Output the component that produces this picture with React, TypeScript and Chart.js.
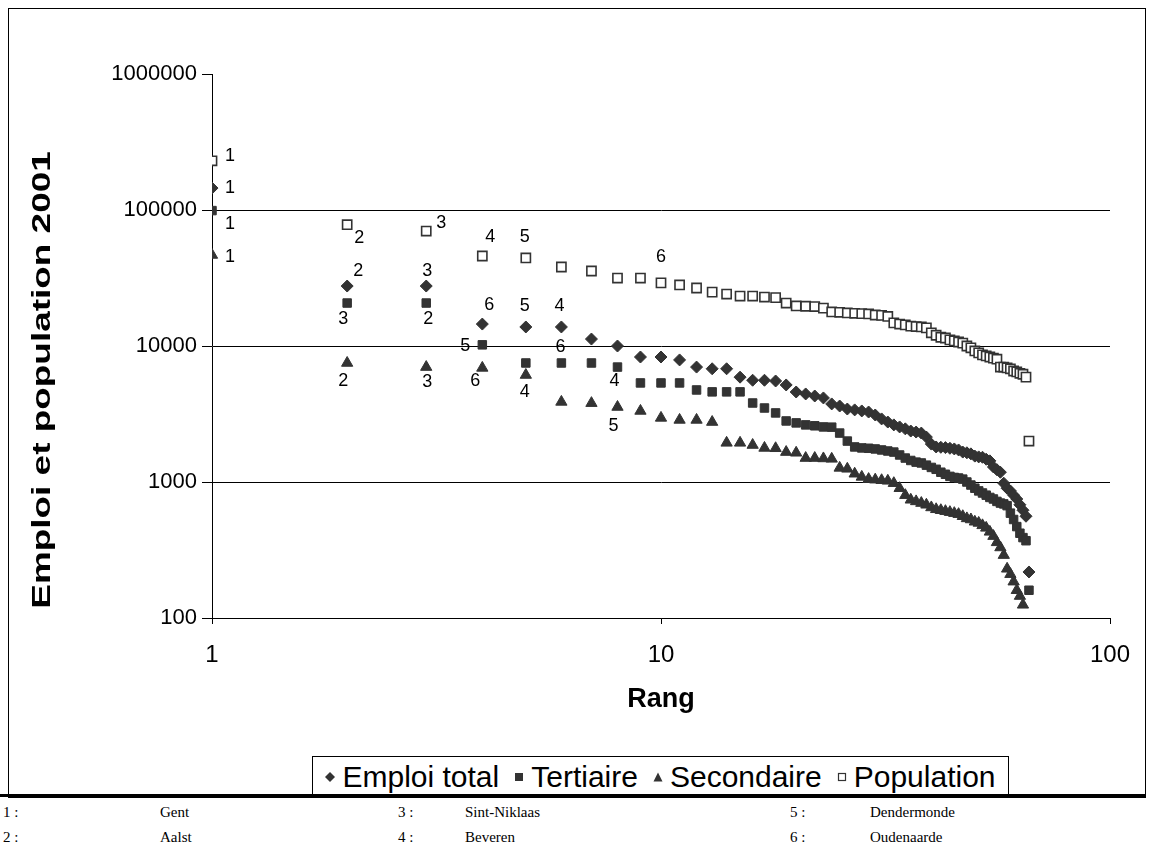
import React, { useEffect, useRef } from 'react';
import { Chart, registerables } from 'chart.js';

Chart.register(...registerables);

// ---------- DATA ----------
const SERIES_NAMES = ['Emploi total', 'Tertiaire', 'Secondaire', 'Population'];

const emploiTotal = [
  145000, 27600, 27600, 14500, 13800, 13800, 11250, 10000, 8300, 8300, 7900, 7000, 6800, 6800, 5900, 5600, 5600,
  5530, 5170, 4590, 4440, 4290, 4150, 3750, 3620, 3440, 3390, 3330, 3270, 3110, 2910, 2760, 2630, 2540, 2460,
  2370, 2330, 2290, 2140, 1900, 1810, 1800, 1790, 1770, 1750, 1720, 1660, 1640, 1610, 1550, 1530, 1520, 1470,
  1430, 1290, 1230, 1180, 980, 900, 860, 800, 750, 680, 620, 560, 218,
];

const tertiaire = [
  99000, 20700, 20700, 10200, 7500, 7500, 7500, 7000, 5350, 5350, 5350, 4750, 4600, 4600, 4600, 3810, 3500,
  3220, 2810, 2720, 2630, 2590, 2540, 2530, 2290, 2000, 1810, 1780, 1770, 1750, 1720, 1690, 1660, 1580, 1500,
  1440, 1400, 1380, 1330, 1280, 1240, 1180, 1140, 1100, 1080, 1070, 1050, 1000, 950, 900, 860, 830, 800, 770,
  750, 720, 700, 690, 670, 590, 530, 470, 420, 390, 370, 160,
];

const secondaire = [
  46700, 7500, 7000, 6900, 6120, 3880, 3800, 3560, 3330, 2960, 2860, 2860, 2760, 1940, 1940, 1870, 1780, 1770,
  1660, 1640, 1500, 1500, 1490, 1480, 1270, 1250, 1150, 1090, 1050, 1040, 1030, 1020, 980, 900, 800, 740, 720,
  700, 680, 650, 630, 620, 610, 600, 590, 580, 560, 540, 530, 510, 500, 480, 460, 430, 400, 360, 330, 290, 230,
  210, 185, 160, 145, 125,
];

const population = [
  230000, 78000, 70000, 45900, 44400, 38100, 35600, 31600, 31600, 29100, 28100, 26700, 24900, 24100, 23300, 23300,
  22900, 22700, 20700, 19700, 19600, 19500, 19000, 17800, 17700, 17500, 17400, 17300, 17200, 16900, 16800, 16500,
  14800, 14500, 14300, 14000, 13900, 13800, 13600, 12500, 12000, 11600, 11450, 11100, 10900, 10700, 10500, 10000,
  9700, 9200, 8900, 8600, 8450, 8300, 8150, 8000, 7000, 7000, 6900, 6800, 6550, 6450, 6300, 6200, 5900, 2000,
];

const X_TICKS = [1, 10, 100];
const Y_TICKS = [100, 1000, 10000, 100000, 1000000];
const X_TITLE = 'Rang';
const Y_TITLE = 'Emploi et population 2001';

// city number labels: [rank, text] per series
const labelsEmploi = [[1, '1'], [2, '2'], [3, '3'], [4, '6'], [5, '5'], [6, '4']];
const labelsTertiaire = [[1, '1'], [2, '3'], [3, '2'], [4, '5'], [6, '6'], [8, '4']];
const labelsSecondaire = [[1, '1'], [2, '2'], [3, '3'], [4, '6'], [5, '4'], [8, '5']];
const labelsPopulation = [[1, '1'], [2, '2'], [3, '3'], [4, '4'], [5, '5'], [10, '6']];

const CITY_NUMS = ['1 :', '2 :', '3 :', '4 :', '5 :', '6 :'];
const CITY_NAMES = ['Gent', 'Aalst', 'Sint-Niklaas', 'Beveren', 'Dendermonde', 'Oudenaarde'];

// ---------- STYLE ----------
const FONT = '"Liberation Sans", Arial, sans-serif';
const SERIF = '"Liberation Serif", "Times New Roman", serif';
const MARK = '#333333';

// label offsets (px) per series, parallel to label arrays
const OFFSETS_EMPLOI = [[18, 0], [11, -15], [1, -15], [7, -19], [-1, -21], [-2, -21]];
const OFFSETS_TERT = [[18, 13], [-4, 16], [2, 16], [-17, 1], [-1, -16], [-3, 14]];
const OFFSETS_SEC = [[18, 2], [-4, 18], [1, 15], [-7, 13], [-1, 17], [-4, 19]];
const OFFSETS_POP = [[18, -5], [12, 13], [15, -8], [8, -19], [-1, -21], [0, -26]];

const LABEL_SETS = [
  { data: labelsEmploi, off: OFFSETS_EMPLOI },
  { data: labelsTertiaire, off: OFFSETS_TERT },
  { data: labelsSecondaire, off: OFFSETS_SEC },
  { data: labelsPopulation, off: OFFSETS_POP },
];

const toPoints = (arr: number[]) => arr.map((v, i) => ({ x: i + 1, y: v }));

const labelPlugin = {
  id: 'cityLabels',
  afterDatasetsDraw(chart: any) {
    const ctx = chart.ctx;
    ctx.save();
    ctx.font = `18px ${FONT}`;
    ctx.fillStyle = '#000';
    ctx.textAlign = 'center';
    ctx.textBaseline = 'middle';
    LABEL_SETS.forEach((set, di) => {
      const meta = chart.getDatasetMeta(di);
      set.data.forEach((lb: any, k: number) => {
        const el = meta.data[lb[0] - 1];
        if (!el) return;
        const [dx, dy] = set.off[k];
        ctx.fillText(lb[1], el.x + dx, el.y + dy);
      });
    });
    ctx.restore();
  },
};

// vertical axis title, drawn stretched along its reading direction as in the original
const yTitlePlugin = {
  id: 'yTitle',
  afterDraw(chart: any) {
    const { ctx, chartArea } = chart;
    ctx.save();
    ctx.translate(35, (chartArea.top + chartArea.bottom) / 2 + 34);
    ctx.rotate(-Math.PI / 2);
    ctx.scale(1.42, 1);
    ctx.font = `bold 26px ${FONT}`;
    ctx.fillStyle = '#000';
    ctx.textAlign = 'center';
    ctx.textBaseline = 'middle';
    ctx.fillText(Y_TITLE, 0, 0);
    ctx.restore();
  },
};

function LegendIcon({ kind }: { kind: number }) {
  const s = 10;
  if (kind === 0)
    return (
      <svg width={s} height={s} viewBox="0 0 10 10">
        <polygon points="5,0 10,5 5,10 0,5" fill={MARK} />
      </svg>
    );
  if (kind === 1)
    return (
      <svg width={s} height={s} viewBox="0 0 10 10">
        <rect x="1" y="1" width="8" height="8" fill={MARK} />
      </svg>
    );
  if (kind === 2)
    return (
      <svg width={s} height={s} viewBox="0 0 10 10">
        <polygon points="5,0.5 9.5,9.5 0.5,9.5" fill={MARK} />
      </svg>
    );
  return (
    <svg width={s} height={s} viewBox="0 0 10 10">
      <rect x="1.5" y="1.5" width="7" height="7" fill="#fff" stroke={MARK} strokeWidth="1.2" />
    </svg>
  );
}

export default function App() {
  const ref = useRef<HTMLCanvasElement>(null);

  useEffect(() => {
    if (!ref.current) return;
    const chart = new Chart(ref.current, {
      type: 'scatter',
      data: {
        datasets: [
          {
            label: SERIES_NAMES[0],
            data: toPoints(emploiTotal),
            pointStyle: 'rectRot',
            pointRadius: 6,
            backgroundColor: MARK,
            borderColor: MARK,
            borderWidth: 1,
            order: 4,
          },
          {
            label: SERIES_NAMES[1],
            data: toPoints(tertiaire),
            pointStyle: 'rect',
            pointRadius: 6,
            backgroundColor: MARK,
            borderColor: MARK,
            borderWidth: 1,
            order: 3,
          },
          {
            label: SERIES_NAMES[2],
            data: toPoints(secondaire),
            pointStyle: 'triangle',
            pointRadius: 6.5,
            backgroundColor: MARK,
            borderColor: MARK,
            borderWidth: 1,
            order: 2,
          },
          {
            label: SERIES_NAMES[3],
            data: toPoints(population),
            pointStyle: 'rect',
            pointRadius: 6.5,
            backgroundColor: '#ffffff',
            borderColor: MARK,
            borderWidth: 1.6,
            order: 1,
          },
        ],
      },
      options: {
        responsive: false,
        animation: false,
        layout: { padding: { top: 66, right: 35, bottom: 40, left: 0 } },
        plugins: {
          legend: { display: false },
          tooltip: { enabled: false },
        },
        scales: {
          x: {
            type: 'logarithmic',
            position: 'bottom',
            min: 1,
            max: 100,
            afterBuildTicks: (s: any) => {
              s.ticks = X_TICKS.map((v) => ({ value: v }));
            },
            afterFit: (s: any) => {
              s.height = 138;
              s.paddingLeft = 0;
              s.paddingRight = 0;
            },
            ticks: {
              color: '#000',
              font: { family: FONT, size: 24 },
              padding: 17,
              autoSkip: false,
              maxRotation: 0,
              callback: (v: any) => String(v),
            },
            grid: { drawOnChartArea: false, drawTicks: true, tickLength: 6, tickColor: '#000' },
            border: { color: '#000', width: 1 },
            title: {
              display: true,
              text: X_TITLE,
              color: '#000',
              font: { family: FONT, size: 27, weight: 'bold' },
              padding: { top: 0, bottom: 40 },
            },
          },
          y: {
            type: 'logarithmic',
            min: 100,
            max: 1000000,
            afterBuildTicks: (s: any) => {
              s.ticks = Y_TICKS.map((v) => ({ value: v }));
            },
            afterFit: (s: any) => {
              s.width = 204;
            },
            ticks: {
              color: '#000',
              font: { family: FONT, size: 22 },
              padding: 5,
              callback: (v: any) => String(v),
            },
            grid: {
              color: (c: any) => (c.tick && c.tick.value === 1000000 ? 'rgba(0,0,0,0)' : '#000'),
              tickColor: '#000',
              tickLength: 10,
              lineWidth: 1,
            },
            border: { color: '#000', width: 1 },
            title: { display: false },
          },
        },
      },
      plugins: [labelPlugin, yTitlePlugin],
    } as any);
    return () => chart.destroy();
  }, []);

  const rowTop = [804, 829];
  const colNum = [3, 398, 790];
  const colName = [160, 465, 870];

  return (
    <div
      style={{
        position: 'absolute',
        left: 0,
        top: 0,
        width: 1153,
        height: 859,
        background: '#fff',
        overflow: 'hidden',
      }}
    >
      <div
        style={{
          position: 'absolute',
          left: 8,
          top: 8,
          width: 1138,
          height: 790,
          border: '1px solid #000',
          boxSizing: 'border-box',
        }}
      />
      <canvas ref={ref} width={1137} height={788} style={{ position: 'absolute', left: 8, top: 8 }} />
      <div
        style={{
          position: 'absolute',
          left: 312,
          top: 756,
          width: 697,
          height: 41,
          border: '1px solid #000',
          boxSizing: 'border-box',
          background: '#fff',
          display: 'flex',
          alignItems: 'center',
          justifyContent: 'center',
          gap: 15,
          fontFamily: FONT,
          fontSize: 30,
          color: '#000',
          whiteSpace: 'nowrap',
          overflow: 'hidden',
        }}
      >
        {SERIES_NAMES.map((n, i) => (
          <span key={n} style={{ display: 'flex', alignItems: 'center', gap: 7 }}>
            <LegendIcon kind={i} />
            <span>{n}</span>
          </span>
        ))}
      </div>
      <div style={{ position: 'absolute', left: 0, top: 794, width: 1146, height: 3, background: '#000' }} />
      {CITY_NAMES.map((name, i) => {
        const col = Math.floor(i / 2);
        const row = i % 2;
        return (
          <React.Fragment key={name}>
            <span
              style={{
                position: 'absolute',
                left: colNum[col],
                top: rowTop[row],
                fontFamily: SERIF,
                fontSize: 15,
                color: '#000',
                whiteSpace: 'nowrap',
              }}
            >
              {CITY_NUMS[i]}
            </span>
            <span
              style={{
                position: 'absolute',
                left: colName[col],
                top: rowTop[row],
                fontFamily: SERIF,
                fontSize: 15,
                color: '#000',
                whiteSpace: 'nowrap',
              }}
            >
              {name}
            </span>
          </React.Fragment>
        );
      })}
    </div>
  );
}
